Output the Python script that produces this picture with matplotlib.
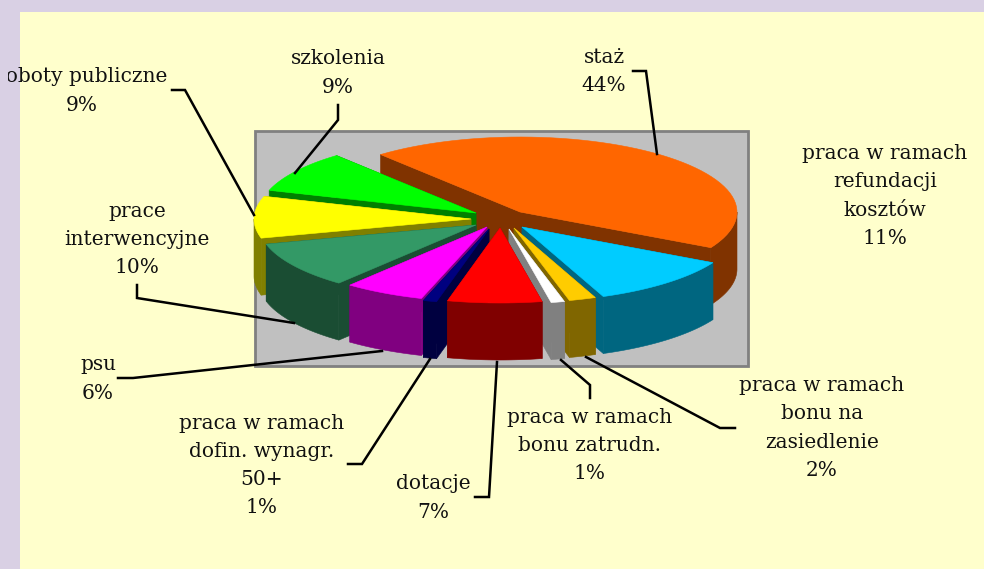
import numpy as np
import matplotlib
matplotlib.use("Agg")
import matplotlib.pyplot as plt
from matplotlib.patches import Rectangle

# slices, clockwise from the left edge of the big one
values = [44, 11, 2, 1, 7, 1, 6, 10, 9, 9]
top_colors = ["#FF6600", "#00CCFF", "#FFCC00", "#FFFFFF", "#FF0000",
              "#000080", "#FF00FF", "#339966", "#FFFF00", "#00FF00"]
side_colors = ["#803300", "#006680", "#806600", "#808080", "#800000",
               "#000040", "#800080", "#1A4D33", "#808000", "#008000"]
# where each slice's tip ended up after the explode
tips_x = [520, 522, 514, 509, 500, 489, 487, 476, 471, 476]
tips_y = [212, 227, 228, 229, 228, 229, 227, 225, 219, 213]

label_texts = ["staż\n44%",
               "praca w ramach\nrefundacji\nkosztów\n11%",
               "praca w ramach\nbonu na\nzasiedlenie\n2%",
               "praca w ramach\nbonu zatrudn.\n1%",
               "dotacje\n7%",
               "praca w ramach\ndofin. wynagr.\n50+\n1%",
               "psu\n6%",
               "prace\ninterwencyjne\n10%",
               "roboty publiczne\n9%",
               "szkolenia\n9%"]
label_x = [604, 885, 822, 590, 433, 262, 98, 137, 82, 338]
label_y = [71.5, 196, 428, 445.5, 498, 465.5, 379, 239.5, 91, 73]

leaders = [[(633, 71), (646, 71), (657, 154)],
           [(172, 90), (185, 90), (254, 215)],
           [(338, 105), (338, 120), (295, 173)],
           [(137, 285), (137, 298), (294, 323)],
           [(118, 378), (133, 378), (382, 351)],
           [(348, 464), (362, 464), (430, 359)],
           [(475, 497), (489, 497), (497, 362)],
           [(590, 398), (590, 385), (561, 360)],
           [(735, 428), (720, 428), (586, 357)]]

START = 230.0
RX, RY, DEPTH = 217, 75, 57


def rim(cx, cy, a0, a1, n=60):
    t = np.radians(np.linspace(a0, a1, n))
    return cx + RX * np.cos(t), cy + RY * np.sin(t)


def fill(ax, x, y, color, z):
    ax.fill(x, y, facecolor=color, edgecolor=color, lw=0.4, zorder=z)


def draw_wall(ax, cx, cy, a, color, z):
    ex = cx + RX * np.cos(np.radians(a))
    ey = cy + RY * np.sin(np.radians(a))
    fill(ax, [cx, ex, ex, cx], [cy, ey, ey + DEPTH, cy + DEPTH], color, z)


def draw_outer(ax, cx, cy, a0, a1, color, z):
    # only the part of the rim that faces the viewer
    for shift in (0, 360):
        lo = max(a0, shift)
        hi = min(a1, shift + 180)
        if hi > lo:
            x, y = rim(cx, cy, lo, hi)
            fill(ax, np.r_[x, x[::-1]], np.r_[y, y[::-1] + DEPTH], color, z)


def draw_pie(ax):
    shares = np.array(values) / sum(values) * 360
    starts = START + np.r_[0, np.cumsum(shares)[:-1]]
    ends = starts + shares
    mids = np.radians((starts + ends) / 2)
    order = np.argsort(np.sin(mids))
    for z, i in enumerate(order):
        z = 3 + z * 0.1
        cx, cy = tips_x[i], tips_y[i]
        draw_wall(ax, cx, cy, starts[i], side_colors[i], z)
        draw_wall(ax, cx, cy, ends[i], side_colors[i], z)
        draw_outer(ax, cx, cy, starts[i], ends[i], side_colors[i], z)
        x, y = rim(cx, cy, starts[i], ends[i])
        fill(ax, np.r_[cx, x], np.r_[cy, y], top_colors[i], z + 0.05)


fig = plt.figure(figsize=(9.84, 5.69), dpi=100, facecolor="#D9D0E4")
ax = fig.add_axes([0, 0, 1, 1])
ax.set_xlim(0, 984)
ax.set_ylim(569, 0)
ax.axis("off")

ax.add_patch(Rectangle((20, 12), 964, 557, facecolor="#FFFFCC", edgecolor="none", zorder=0))
ax.add_patch(Rectangle((254.5, 131), 493, 235, facecolor="#C0C0C0", edgecolor="#808080", lw=2, zorder=1))

draw_pie(ax)

for pts in leaders:
    xs, ys = zip(*pts)
    ax.plot(xs, ys, color="black", lw=1.8, zorder=6, solid_joinstyle="miter")

# the reference cuts the left label off at the edge of its frame
clip = Rectangle((8, 0), 976, 569, transform=ax.transData)
for txt, x, y in zip(label_texts, label_x, label_y):
    t = ax.text(x, y, txt, ha="center", va="center", ma="center", family="DejaVu Serif",
                fontsize=14.5, linespacing=1.62, color="#111111", zorder=7)
    t.set_clip_path(clip)
    t.set_clip_on(True)

fig.savefig("out.png", dpi=100, facecolor=fig.get_facecolor())
